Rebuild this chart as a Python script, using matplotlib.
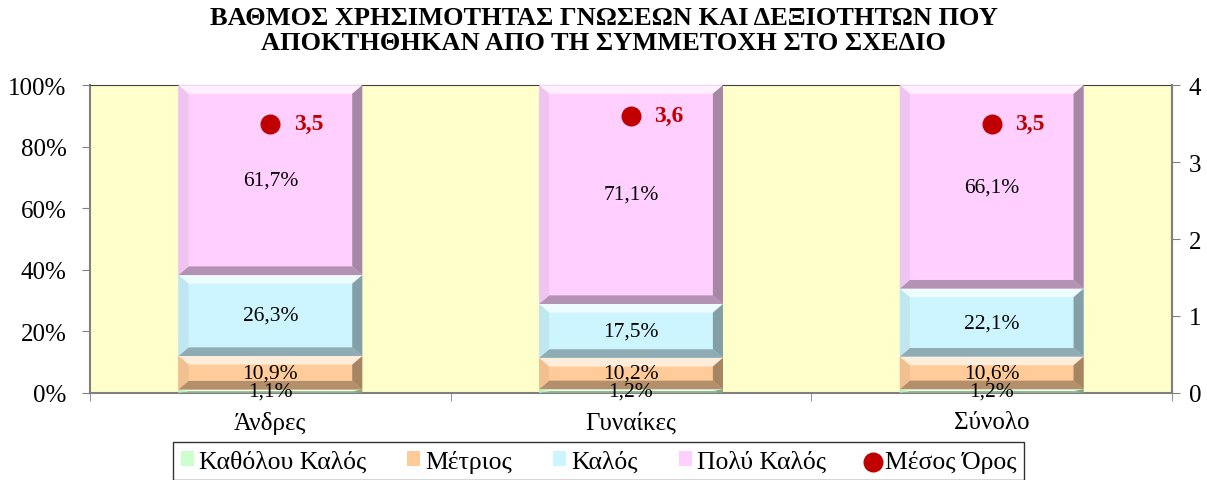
import numpy as np
import matplotlib.pyplot as plt
from matplotlib.patches import Polygon
from matplotlib.colors import to_rgb

plt.rcParams['font.family'] = ['Liberation Serif', 'DejaVu Serif']

categories = ['Άνδρες', 'Γυναίκες', 'Σύνολο']
series_names = ['Καθόλου Καλός', 'Μέτριος', 'Καλός', 'Πολύ Καλός']
katholou = [1.1, 1.2, 1.2]
metrios = [10.9, 10.2, 10.6]
kalos = [26.3, 17.5, 22.1]
poly_kalos = [61.7, 71.1, 66.1]
mesos_oros = [3.5, 3.6, 3.5]

series = [katholou, metrios, kalos, poly_kalos]
faces = ['#CCFFCC', '#FFCC99', '#CCF5FF', '#FFD0FF']


def shade(c, f):
    r = np.array(to_rgb(c))
    if f > 0:
        return tuple(r + (1 - r) * f)
    return tuple(r * (1 + f))


def bevel(ax, rect, fc):
    # fake the excel bevel look with four trapezoids round the bar
    x0, y0 = rect.get_x(), rect.get_y()
    w, h = rect.get_width(), rect.get_height()
    x1, y1 = x0 + w, y0 + h
    bx = min(0.028, w / 2)
    by = min(2.8, h / 2)
    parts = [
        ([(x0, y1), (x1, y1), (x1 - bx, y1 - by), (x0 + bx, y1 - by)], shade(fc, 0.65)),
        ([(x0, y0), (x1, y0), (x1 - bx, y0 + by), (x0 + bx, y0 + by)], shade(fc, -0.3)),
        ([(x0, y0), (x0 + bx, y0 + by), (x0 + bx, y1 - by), (x0, y1)], shade(fc, -0.06)),
        ([(x1, y0), (x1 - bx, y0 + by), (x1 - bx, y1 - by), (x1, y1)], shade(fc, -0.35)),
    ]
    for pts, col in parts:
        ax.add_patch(Polygon(pts, closed=True, facecolor=col, edgecolor='none', zorder=3))


fig = plt.figure(figsize=(12.07, 4.81), dpi=100)
ax = fig.add_axes([0.0746, 0.181, 0.8964, 0.640])
ax.set_facecolor('#FFFFCC')

x = np.arange(len(categories))
bottom = np.zeros(len(categories))
handles = []
for vals, name, fc in zip(series, series_names, faces):
    v = np.array(vals)
    b = ax.bar(x, v, 0.51, bottom=bottom, color=fc, edgecolor='none',
               label=name, zorder=2)
    handles.append(b)
    for r in b:
        bevel(ax, r, fc)
    for xi, vi, bi in zip(x, v, bottom):
        ax.text(xi, bi + vi / 2, f'{vi:.1f}%'.replace('.', ','),
                ha='center', va='center', fontsize=15.5, zorder=4)
    bottom += v

ax.set_xlim(-0.5, 2.5)
ax.set_ylim(0, 100)
ax.set_yticks(np.arange(0, 101, 20))
ax.set_yticklabels([f'{t}%' for t in range(0, 101, 20)], fontsize=18)
ax.set_xticks(x)
ax.set_xticklabels(categories, fontsize=18)
ax.set_xticks([-0.5, 0.5, 1.5, 2.5], minor=True)
ax.tick_params(axis='x', which='major', length=0, pad=13)
ax.tick_params(axis='x', which='minor', length=6, color='#808080', direction='out')
ax.tick_params(axis='y', length=6, color='#808080', direction='out', pad=11)
for s in ['left', 'bottom', 'right']:
    ax.spines[s].set_color('#808080')
    ax.spines[s].set_linewidth(1.5)
ax.spines['top'].set_color('#404040')

ax2 = ax.twinx()
ax2.set_ylim(0, 4)
ax2.set_yticks(range(5))
ax2.tick_params(axis='y', labelsize=18, length=6, color='#808080', pad=6)
for s in ax2.spines.values():
    s.set_visible(False)
ax2.spines['right'].set_visible(True)
ax2.spines['right'].set_color('#808080')
ax2.spines['right'].set_linewidth(1.5)
dots = ax2.scatter(x, mesos_oros, s=180, color='#C00000', zorder=5, label='Μέσος Όρος')
for xi, m in zip(x, mesos_oros):
    ax2.text(xi + 0.065, m, f'{m:.1f}'.replace('.', ','), color='#C00000',
             fontsize=17, fontweight='bold', ha='left', va='center')

fig.suptitle('ΒΑΘΜΟΣ ΧΡΗΣΙΜΟΤΗΤΑΣ ΓΝΩΣΕΩΝ ΚΑΙ ΔΕΞΙΟΤΗΤΩΝ ΠΟΥ\n'
             'ΑΠΟΚΤΗΘΗΚΑΝ ΑΠΟ ΤΗ ΣΥΜΜΕΤΟΧΗ ΣΤΟ ΣΧΕΔΙΟ',
             fontsize=19, fontweight='bold', y=0.985, va='top', linespacing=1.1)

leg = fig.legend(handles + [dots], series_names + ['Μέσος Όρος'],
                 loc='upper center', bbox_to_anchor=(0.496, 0.079), ncol=5,
                 fontsize=18.5, frameon=True, fancybox=False, edgecolor='black',
                 handlelength=0.5, handleheight=0.5, handletextpad=0.2,
                 columnspacing=1.6, borderpad=0.3, borderaxespad=0)
leg.get_frame().set_linewidth(1.0)

fig.savefig('out.png', dpi=100)
